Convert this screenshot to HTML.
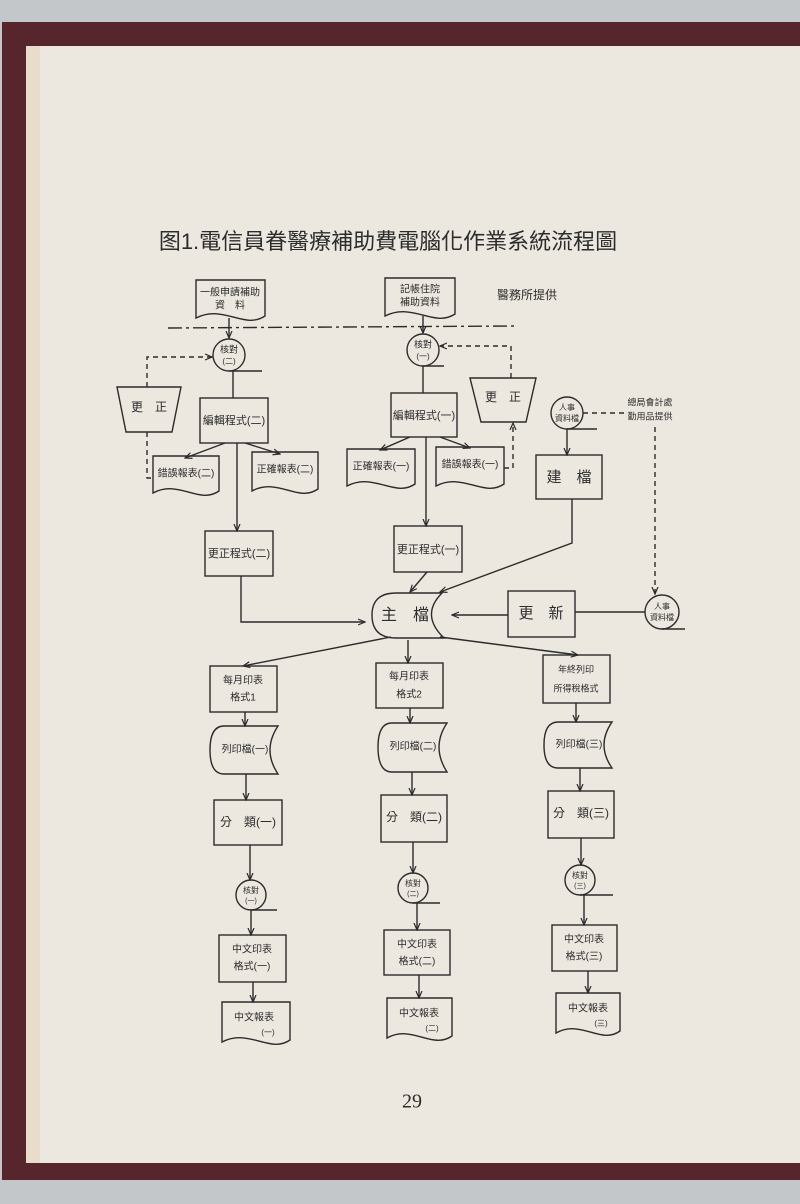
<!DOCTYPE html>
<html><head><meta charset="utf-8"><style>
html,body{margin:0;padding:0;width:800px;height:1204px;overflow:hidden;background:#c3c7c9;}
svg{display:block}
text{font-family:"Liberation Sans","Noto Sans CJK TC",sans-serif;fill:#2c2c2c;text-anchor:middle;dominant-baseline:middle}
</style></head><body>
<svg width="800" height="1204" viewBox="0 0 800 1204" xmlns="http://www.w3.org/2000/svg">
<defs><marker id="a" markerWidth="8" markerHeight="8" refX="7" refY="4" orient="auto" markerUnits="userSpaceOnUse"><path d="M0,1 L7,4 L0,7" fill="none" stroke="#2c2c2c" stroke-width="1.2"/></marker></defs>
<rect x="2" y="22" width="798" height="1158" fill="#57262c"/>
<rect x="26" y="46" width="774" height="1117" fill="#ece7df"/>
<rect x="26" y="46" width="14" height="1117" fill="#eadccb"/>

<g stroke="#2c2c2c" stroke-width="1.4" fill="none">
<!-- docs -->
<path d="M196 280 H265 V316 C244 330,224 304,196 318 Z"/>
<path d="M385 278 H455 V314 C434 328,413 302,385 316 Z"/>
<path d="M153 456 H219 V491 C199 505,179 479,153 493 Z"/>
<path d="M252 452 H318 V489 C298 503,278 477,252 491 Z"/>
<path d="M347 449 H415 V484 C395 498,374 472,347 486 Z"/>
<path d="M436 447 H504 V484 C484 498,463 472,436 486 Z"/>
<path d="M222 1002 H290 V1040 C270 1054,249 1028,222 1042 Z"/>
<path d="M387 998 H452 V1036 C432 1050,412 1024,387 1038 Z"/>
<path d="M556 993 H620 V1031 C601 1045,581 1019,556 1033 Z"/>
<!-- circles -->
<circle cx="229" cy="355" r="16"/><line x1="229" y1="371" x2="262" y2="371"/>
<circle cx="423" cy="350" r="16"/><line x1="423" y1="366" x2="444" y2="366"/>
<circle cx="567" cy="413" r="16"/><line x1="567" y1="429" x2="597" y2="429"/>
<circle cx="662" cy="612" r="17"/><line x1="662" y1="629" x2="685" y2="629"/>
<circle cx="251" cy="895" r="15"/><line x1="251" y1="910" x2="277" y2="910"/>
<circle cx="413" cy="888" r="15"/><line x1="413" y1="903" x2="440" y2="903"/>
<circle cx="580" cy="880" r="15"/><line x1="580" y1="895" x2="613" y2="895"/>
<!-- trapezoids -->
<polygon points="117,387 181,387 172,432 126,432"/>
<polygon points="470,378 536,378 526,422 481,422"/>
<!-- boxes -->
<rect x="200" y="398" width="68" height="45"/>
<rect x="205" y="531" width="68" height="45"/>
<rect x="391" y="393" width="66" height="44"/>
<rect x="394" y="526" width="68" height="46"/>
<rect x="536" y="455" width="66" height="44"/>
<rect x="508" y="591" width="67" height="46"/>
<rect x="210" y="666" width="67" height="46"/>
<rect x="376" y="663" width="67" height="45"/>
<rect x="543" y="655" width="67" height="48"/>
<rect x="214" y="800" width="68" height="45"/>
<rect x="381" y="795" width="66" height="47"/>
<rect x="548" y="791" width="66" height="47"/>
<rect x="219" y="935" width="67" height="47"/>
<rect x="384" y="930" width="66" height="45"/>
<rect x="552" y="925" width="65" height="46"/>
<!-- master file -->
<path d="M396 593 H442 Q420 615 444 638 H396 Q372 638 372 615 Q372 593 396 593 Z"/>
<!-- tapes -->
<path d="M224 726 H278 Q262 750 278 774 H224 Q210 774 210 750 Q210 726 224 726 Z"/>
<path d="M392 723 H447 Q431 747 447 772 H392 Q378 772 378 747 Q378 723 392 723 Z"/>
<path d="M558 722 H612 Q596 745 612 768 H558 Q544 768 544 745 Q544 722 558 722 Z"/>
<!-- solid arrows -->
<line x1="229" y1="318" x2="229" y2="338" marker-end="url(#a)"/>
<line x1="423" y1="316" x2="423" y2="333" marker-end="url(#a)"/>
<line x1="233" y1="371" x2="233" y2="398"/>
<line x1="225" y1="443" x2="185" y2="458" marker-end="url(#a)"/>
<line x1="245" y1="443" x2="280" y2="454" marker-end="url(#a)"/>
<line x1="237" y1="443" x2="237" y2="531" marker-end="url(#a)"/>
<polyline points="241,576 241,622 365,622" marker-end="url(#a)"/>
<line x1="423" y1="366" x2="423" y2="393"/>
<line x1="410" y1="437" x2="380" y2="450" marker-end="url(#a)"/>
<line x1="440" y1="437" x2="470" y2="448" marker-end="url(#a)"/>
<line x1="426" y1="437" x2="426" y2="526" marker-end="url(#a)"/>
<line x1="427" y1="572" x2="410" y2="592" marker-end="url(#a)"/>
<line x1="567" y1="429" x2="567" y2="455" marker-end="url(#a)"/>
<polyline points="572,499 572,543 440,592" marker-end="url(#a)"/>
<line x1="508" y1="615" x2="452" y2="615" marker-end="url(#a)"/>
<line x1="575" y1="612" x2="645" y2="612"/>
<line x1="391" y1="637" x2="243" y2="666" marker-end="url(#a)"/>
<line x1="408" y1="640" x2="408" y2="663" marker-end="url(#a)"/>
<line x1="440" y1="637" x2="578" y2="655" marker-end="url(#a)"/>
<line x1="245" y1="712" x2="245" y2="726" marker-end="url(#a)"/>
<line x1="246" y1="774" x2="246" y2="800" marker-end="url(#a)"/>
<line x1="250" y1="845" x2="250" y2="880" marker-end="url(#a)"/>
<line x1="251" y1="910" x2="251" y2="935" marker-end="url(#a)"/>
<line x1="253" y1="982" x2="253" y2="1002" marker-end="url(#a)"/>
<line x1="410" y1="708" x2="410" y2="723" marker-end="url(#a)"/>
<line x1="412" y1="772" x2="412" y2="795" marker-end="url(#a)"/>
<line x1="413" y1="842" x2="413" y2="873" marker-end="url(#a)"/>
<line x1="417" y1="903" x2="417" y2="930" marker-end="url(#a)"/>
<line x1="419" y1="975" x2="419" y2="998" marker-end="url(#a)"/>
<line x1="576" y1="703" x2="576" y2="722" marker-end="url(#a)"/>
<line x1="580" y1="768" x2="580" y2="791" marker-end="url(#a)"/>
<line x1="581" y1="838" x2="581" y2="865" marker-end="url(#a)"/>
<line x1="584" y1="895" x2="584" y2="925" marker-end="url(#a)"/>
<line x1="588" y1="971" x2="588" y2="993" marker-end="url(#a)"/>
</g>
<g stroke="#2c2c2c" stroke-width="1.4" fill="none" stroke-dasharray="5,4">
<polyline points="147,387 147,357 212,357" marker-end="url(#a)"/>
<polyline points="147,432 147,478 153,478"/>
<polyline points="511,378 511,346 440,346" marker-end="url(#a)"/>
<polyline points="504,468 513,468 513,423" marker-end="url(#a)"/>
<line x1="583" y1="413" x2="626" y2="413"/>
<line x1="655" y1="427" x2="655" y2="594" marker-end="url(#a)"/>
<line x1="168" y1="328" x2="515" y2="326" stroke-dasharray="14,4,3,4"/>
</g>

<text x="388" y="243" font-size="22">图1.電信員眷醫療補助費電腦化作業系統流程圖</text>
<text x="230" y="293" font-size="10">一般申請補助</text><text x="230" y="306" font-size="10">資　料</text>
<text x="420" y="290" font-size="10">記帳住院</text><text x="420" y="303" font-size="10">補助資料</text>
<text x="527" y="296" font-size="12">醫務所提供</text>
<text x="229" y="350" font-size="9">核對</text><text x="229" y="362" font-size="8">(二)</text>
<text x="423" y="345" font-size="9">核對</text><text x="423" y="357" font-size="8">(一)</text>
<text x="567" y="408" font-size="8">人事</text><text x="567" y="419" font-size="8">資料檔</text>
<text x="662" y="607" font-size="8">人事</text><text x="662" y="618" font-size="8">資料檔</text>
<text x="650" y="403" font-size="9">總局會計處</text><text x="650" y="417" font-size="9">勤用品提供</text>
<text x="149" y="408" font-size="12">更　正</text>
<text x="503" y="398" font-size="12">更　正</text>
<text x="234" y="421" font-size="11">編輯程式(二)</text>
<text x="424" y="416" font-size="11">編輯程式(一)</text>
<text x="186" y="474" font-size="10">錯誤報表(二)</text>
<text x="285" y="470" font-size="10">正確報表(二)</text>
<text x="381" y="467" font-size="10">正確報表(一)</text>
<text x="470" y="465" font-size="10">錯誤報表(一)</text>
<text x="239" y="554" font-size="11">更正程式(二)</text>
<text x="428" y="550" font-size="11">更正程式(一)</text>
<text x="569" y="478" font-size="15">建　檔</text>
<text x="405" y="616" font-size="16">主　檔</text>
<text x="541" y="614" font-size="15">更　新</text>
<text x="243" y="681" font-size="10">每月印表</text><text x="243" y="698" font-size="10">格式1</text>
<text x="409" y="677" font-size="10">每月印表</text><text x="409" y="695" font-size="10">格式2</text>
<text x="576" y="670" font-size="9">年終列印</text><text x="576" y="689" font-size="9">所得稅格式</text>
<text x="245" y="750" font-size="10">列印檔(一)</text>
<text x="413" y="747" font-size="10">列印檔(二)</text>
<text x="579" y="745" font-size="10">列印檔(三)</text>
<text x="248" y="823" font-size="12">分　類(一)</text>
<text x="414" y="818" font-size="12">分　類(二)</text>
<text x="581" y="814" font-size="12">分　類(三)</text>
<text x="251" y="891" font-size="8">核對</text><text x="251" y="901" font-size="7">(一)</text>
<text x="413" y="884" font-size="8">核對</text><text x="413" y="894" font-size="7">(二)</text>
<text x="580" y="876" font-size="8">核對</text><text x="580" y="886" font-size="7">(三)</text>
<text x="252" y="950" font-size="10">中文印表</text><text x="252" y="967" font-size="10">格式(一)</text>
<text x="417" y="945" font-size="10">中文印表</text><text x="417" y="962" font-size="10">格式(二)</text>
<text x="584" y="940" font-size="10">中文印表</text><text x="584" y="957" font-size="10">格式(三)</text>
<text x="254" y="1018" font-size="10">中文報表</text><text x="268" y="1033" font-size="8">(一)</text>
<text x="419" y="1014" font-size="10">中文報表</text><text x="432" y="1029" font-size="8">(二)</text>
<text x="588" y="1009" font-size="10">中文報表</text><text x="601" y="1024" font-size="8">(三)</text>
<text x="412" y="1103" font-size="20" style="font-family:'Liberation Serif',serif">29</text>
</svg>
</body></html>
